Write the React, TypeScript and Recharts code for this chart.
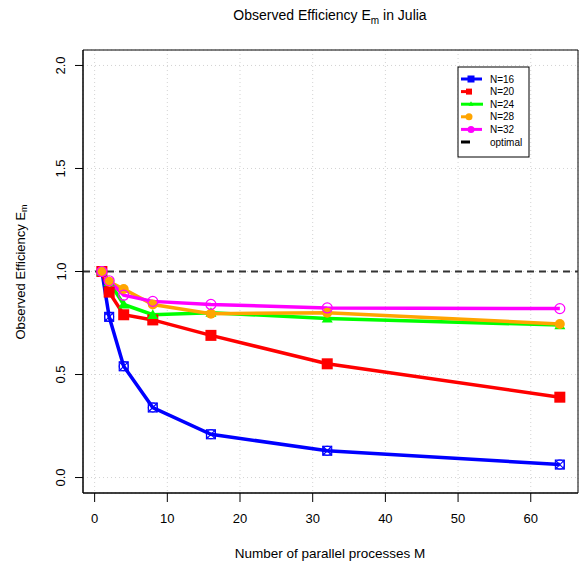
import {
  CartesianGrid,
  Line,
  LineChart,
  ReferenceArea,
  ReferenceLine,
  XAxis,
  YAxis,
} from "recharts";

const processes = [1, 2, 4, 8, 16, 32, 64];
const effN16 = [1.0, 0.78, 0.54, 0.34, 0.21, 0.13, 0.063];
const effN20 = [1.0, 0.9, 0.79, 0.765, 0.69, 0.552, 0.39];
const effN24 = [1.0, 0.95, 0.84, 0.79, 0.8, 0.772, 0.74];
const effN28 = [1.0, 0.95, 0.915, 0.84, 0.795, 0.8, 0.745];
const effN32 = [1.0, 0.955, 0.885, 0.855, 0.84, 0.823, 0.82];
const xTicks = [0, 10, 20, 30, 40, 50, 60];
const yTicks = [0, 0.5, 1, 1.5, 2];
const optimal = 1;

const data = processes.map((m, i) => ({
  m,
  n16: effN16[i],
  n20: effN20[i],
  n24: effN24[i],
  n28: effN28[i],
  n32: effN32[i],
}));

const font = "'Liberation Sans', Arial, Helvetica, sans-serif";

const BlueDot = (props: any) => {
  const { cx, cy } = props;
  if (cx == null || cy == null) return null;
  const r = 4.5;
  return (
    <g key={`b${cx}`} stroke="#0000ff" strokeWidth={1.1} fill="none">
      <rect x={cx - r} y={cy - r} width={2 * r} height={2 * r} />
      <circle cx={cx} cy={cy} r={r} />
      <line x1={cx - r} y1={cy - r} x2={cx + r} y2={cy + r} />
      <line x1={cx - r} y1={cy + r} x2={cx + r} y2={cy - r} />
    </g>
  );
};

const RedDot = (props: any) => {
  const { cx, cy } = props;
  if (cx == null || cy == null) return null;
  return <rect key={`r${cx}`} x={cx - 5.5} y={cy - 5.5} width={11} height={11} fill="#ff0000" />;
};

const GreenDot = (props: any) => {
  const { cx, cy } = props;
  if (cx == null || cy == null) return null;
  const s = 5.5;
  return (
    <polygon
      key={`g${cx}`}
      points={`${cx},${cy - s} ${cx - s},${cy + s * 0.75} ${cx + s},${cy + s * 0.75}`}
      fill="#00ff00"
    />
  );
};

const OrangeDot = (props: any) => {
  const { cx, cy } = props;
  if (cx == null || cy == null) return null;
  return <circle key={`o${cx}`} cx={cx} cy={cy} r={5} fill="#ffa500" />;
};

const MagentaDot = (props: any) => {
  const { cx, cy } = props;
  if (cx == null || cy == null) return null;
  return <circle key={`m${cx}`} cx={cx} cy={cy} r={5} fill="none" stroke="#ff00ff" strokeWidth={1.2} />;
};

const YTick = (props: any) => {
  const { y, payload } = props;
  return (
    <text
      x={61}
      y={y}
      transform={`rotate(-90, 61, ${y})`}
      textAnchor="middle"
      dominantBaseline="central"
      fontSize={13}
      fontFamily={font}
      fill="#000"
    >
      {Number(payload.value).toFixed(1)}
    </text>
  );
};

const legendRows = [
  { label: "N=16", color: "#0000ff", x2: 482, mark: "square" },
  { label: "N=20", color: "#ff0000", x2: 472, mark: "smallsquare" },
  { label: "N=24", color: "#00ff00", x2: 483, mark: "triangle" },
  { label: "N=28", color: "#ffa500", x2: 472, mark: "circle" },
  { label: "N=32", color: "#ff00ff", x2: 482, mark: "circle" },
  { label: "optimal", color: "#000000", x2: 470, mark: "none" },
];

function LegendBox() {
  return (
    <g fontFamily={font} fontSize={10}>
      <rect x={458} y={67} width={71} height={90} fill="#fff" stroke="#000" strokeWidth={1} />
      {legendRows.map((row, i) => {
        const y = 79 + i * 12.6;
        const mx = row.mark === "smallsquare" || (row.mark === "circle" && row.x2 < 480) ? 469 : 471;
        return (
          <g key={row.label}>
            <line x1={461} y1={y} x2={row.x2} y2={y} stroke={row.color} strokeWidth={3} />
            {row.mark === "square" && <rect x={mx - 3.5} y={y - 3.5} width={7} height={7} fill={row.color} />}
            {row.mark === "smallsquare" && <rect x={mx - 3} y={y - 3} width={6} height={6} fill={row.color} />}
            {row.mark === "triangle" && (
              <polygon points={`${mx},${y - 3} ${mx - 2.5},${y + 1.5} ${mx + 2.5},${y + 1.5}`} fill={row.color} />
            )}
            {row.mark === "circle" && <circle cx={mx} cy={y} r={3.5} fill={row.color} />}
            <text x={490} y={y} dominantBaseline="central" fill="#000">
              {row.label}
            </text>
          </g>
        );
      })}
    </g>
  );
}

export default function App() {
  return (
    <div style={{ position: "absolute", left: 0, top: 0, background: "#fff" }}>
      <LineChart
        width={582}
        height={566}
        data={data}
        margin={{ top: 50, right: 4, bottom: 43, left: 0 }}
      >
        <CartesianGrid stroke="#d3d3d3" strokeDasharray="1 3" />
        <XAxis
          dataKey="m"
          type="number"
          domain={[-1.6, 66.5]}
          ticks={xTicks}
          allowDataOverflow
          height={30}
          tickSize={9}
          tickMargin={12}
          stroke="#000"
          tick={{ fontSize: 13, fontFamily: font, fill: "#000" }}
        />
        <YAxis
          type="number"
          domain={[-0.075, 2.075]}
          ticks={yTicks}
          allowDataOverflow
          width={83}
          tickSize={8}
          stroke="#000"
          tick={<YTick />}
        />
        <ReferenceArea
          x1={-1.6}
          x2={66.5}
          y1={-0.075}
          y2={2.075}
          fill="none"
          stroke="#000"
          strokeWidth={1}
        />
        <ReferenceLine y={optimal} stroke="#333" strokeWidth={2} strokeDasharray="7 5" />
        <Line dataKey="n16" stroke="#0000ff" strokeWidth={3.5} dot={<BlueDot />} isAnimationActive={false} />
        <Line dataKey="n20" stroke="#ff0000" strokeWidth={3.5} dot={<RedDot />} isAnimationActive={false} />
        <Line dataKey="n24" stroke="#00ff00" strokeWidth={3.5} dot={<GreenDot />} isAnimationActive={false} />
        <Line dataKey="n28" stroke="#ffa500" strokeWidth={3.5} dot={<OrangeDot />} isAnimationActive={false} />
        <Line dataKey="n32" stroke="#ff00ff" strokeWidth={3.5} dot={<MagentaDot />} isAnimationActive={false} />
        <text x={330} y={20} textAnchor="middle" fontSize={14} fontFamily={font} fill="#000">
          Observed Efficiency E
          <tspan fontSize={10} dy={4}>m</tspan>
          <tspan dy={-4}> in Julia</tspan>
        </text>
        <text x={330} y={558} textAnchor="middle" fontSize={13.5} fontFamily={font} fill="#000">
          Number of parallel processes M
        </text>
        <text
          x={20}
          y={272}
          transform="rotate(-90, 20, 272)"
          textAnchor="middle"
          dominantBaseline="central"
          fontSize={13}
          fontFamily={font}
          fill="#000"
        >
          Observed Efficiency E
          <tspan fontSize={9} dy={4}>m</tspan>
        </text>
        <LegendBox />
      </LineChart>
    </div>
  );
}
